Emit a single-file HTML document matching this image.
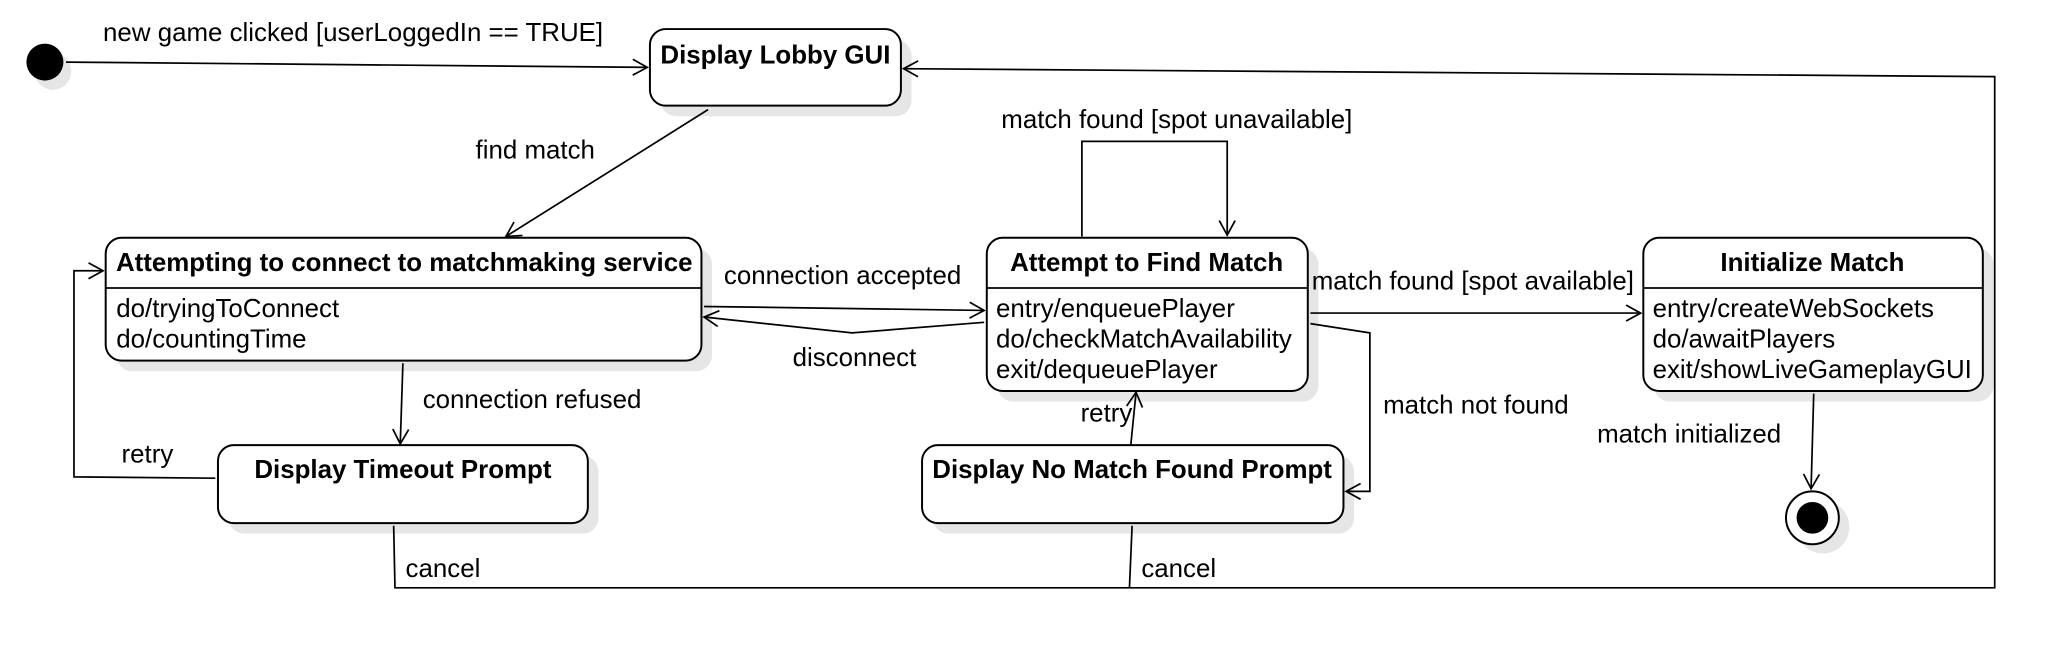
<!DOCTYPE html>
<html><head><meta charset="utf-8"><style>
html,body{margin:0;padding:0;background:#fff;}
svg{display:block;}
text{font-family:"Liberation Sans",sans-serif;font-size:19.6px;fill:#000;}
.b{font-weight:bold;}
.s{fill:#e6e6e6;stroke:none;}
.n{fill:#fff;stroke:#000;stroke-width:1.5;}
.l{fill:none;stroke:#000;stroke-width:1.3;}
</style></head><body>
<svg width="2070" height="668" viewBox="0 0 1567 505.7" preserveAspectRatio="none">
<defs>
<marker id="a" markerWidth="14" markerHeight="14" refX="12" refY="7" orient="auto" markerUnits="userSpaceOnUse">
<path d="M1,1 L12,7 L1,13" fill="none" stroke="#000" stroke-width="1.3"/>
</marker>
</defs>
<circle class="s" cx="40" cy="54" r="14"/>
<rect class="s" x="500" y="30" width="190" height="58" rx="12"/>
<rect class="s" x="88" y="188" width="451" height="93" rx="12"/>
<rect class="s" x="755" y="188" width="243" height="116" rx="12"/>
<rect class="s" x="1252" y="188" width="257" height="116" rx="12"/>
<rect class="s" x="173" y="345" width="280" height="59" rx="12"/>
<rect class="s" x="706" y="345" width="319" height="59" rx="12"/>
<circle class="s" cx="1380" cy="399" r="20"/>
<circle cx="34" cy="47" r="14" fill="#000"/>
<rect class="n" x="492" y="22" width="190" height="58" rx="12"/>
<text class="b" x="587" y="48" text-anchor="middle">Display Lobby GUI</text>
<rect class="n" x="80" y="180" width="451" height="93" rx="12"/>
<line class="l" x1="80" y1="218" x2="531" y2="218"/>
<text class="b" x="306" y="205" text-anchor="middle">Attempting to connect to matchmaking service</text>
<text x="88" y="240">do/tryingToConnect</text>
<text x="88" y="263">do/countingTime</text>
<rect class="n" x="747" y="180" width="243" height="116" rx="12"/>
<line class="l" x1="747" y1="218" x2="990" y2="218"/>
<text class="b" x="868" y="205" text-anchor="middle">Attempt to Find Match</text>
<text x="754" y="240">entry/enqueuePlayer</text>
<text x="754" y="263">do/checkMatchAvailability</text>
<text x="754" y="286">exit/dequeuePlayer</text>
<rect class="n" x="1244" y="180" width="257" height="116" rx="12"/>
<line class="l" x1="1244" y1="218" x2="1501" y2="218"/>
<text class="b" x="1372" y="205" text-anchor="middle">Initialize Match</text>
<text x="1251" y="240">entry/createWebSockets</text>
<text x="1251" y="263">do/awaitPlayers</text>
<text x="1251" y="286">exit/showLiveGameplayGUI</text>
<rect class="n" x="165" y="337" width="280" height="59" rx="12"/>
<text class="b" x="305" y="362" text-anchor="middle">Display Timeout Prompt</text>
<rect class="n" x="698" y="337" width="319" height="59" rx="12"/>
<text class="b" x="857" y="362" text-anchor="middle">Display No Match Found Prompt</text>
<circle cx="1372" cy="392" r="20" fill="#fff" stroke="#000" stroke-width="1.5"/>
<circle cx="1372" cy="392" r="12" fill="#000"/>
<polyline class="l" points="50,47 490,51" marker-end="url(#a)"/>
<text x="78" y="31">new game clicked [userLoggedIn == TRUE]</text>
<polyline class="l" points="536,83 383,179" marker-end="url(#a)"/>
<text x="360" y="120">find match</text>
<polyline class="l" points="533,232 745,235" marker-end="url(#a)"/>
<text x="548" y="215">connection accepted</text>
<polyline class="l" points="745,244 645,252 533,240" marker-end="url(#a)"/>
<text x="600" y="277">disconnect</text>
<polyline class="l" points="819,179 819,107 929,107 929,178" marker-end="url(#a)"/>
<text x="758" y="97">match found [spot unavailable]</text>
<polyline class="l" points="992,237 1242,237" marker-end="url(#a)"/>
<text x="993" y="219">match found [spot available]</text>
<polyline class="l" points="992,245 1037,252 1037,372 1019,372" marker-end="url(#a)"/>
<text x="1047" y="313">match not found</text>
<polyline class="l" points="856,337 860,297" marker-end="url(#a)"/>
<text x="818" y="319">retry</text>
<polyline class="l" points="305,275 303,336" marker-end="url(#a)"/>
<text x="320" y="309">connection refused</text>
<polyline class="l" points="163,362 56,361 56,205 78,205" marker-end="url(#a)"/>
<text x="92" y="350">retry</text>
<polyline class="l" points="298,398 299,445 1510,445 1510,58 684,52" marker-end="url(#a)"/>
<polyline class="l" points="857,398 855,445"/>
<text x="307" y="437">cancel</text>
<text x="864" y="437">cancel</text>
<polyline class="l" points="1373,298 1371,370" marker-end="url(#a)"/>
<text x="1209" y="335">match initialized</text>
</svg>
</body></html>
